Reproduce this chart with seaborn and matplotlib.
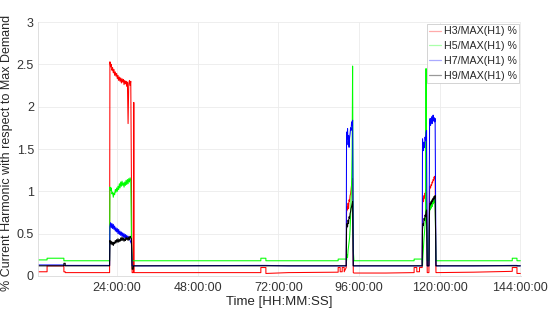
import matplotlib
matplotlib.use("Agg")
import matplotlib.pyplot as plt
from matplotlib.lines import Line2D
import seaborn as sns
import pandas as pd

# time in hours, shared by all four harmonic series
hours = [
    0.5, 3.2, 3.2, 8.2, 8.2, 8.6, 8.6, 21.8,
    21.9, 22.1, 22.3, 22.5, 22.7, 22.9, 23.1, 23.3, 23.5, 23.7, 23.9,
    24.1, 24.3, 24.5, 24.7, 24.9, 25.1, 25.3, 25.5, 25.7, 25.9,
    26.1, 26.3, 26.5, 26.7, 26.9, 27.1, 27.3, 27.5, 27.7, 27.9, 28.1, 28.3,
    28.5, 28.8, 28.9, 29.0, 29.1, 66.8, 66.8, 68.3, 68.3, 75.0, 89.8,
    89.8, 90.4, 90.4, 91.0, 91.0, 91.6, 91.6, 92.2,
    92.3, 92.45, 92.6, 92.75, 92.9, 93.05, 93.2, 93.35, 93.5, 93.65, 93.8, 93.95, 94.1,
    94.3, 94.5,
    104.0, 112.4,
    112.4, 113.2, 113.2, 114.0, 114.0, 114.8,
    114.9, 115.05, 115.2, 115.35, 115.5, 115.65, 115.8, 115.95, 116.1,
    116.3, 116.8,
    117.0, 117.15, 117.3, 117.45, 117.6, 117.75, 117.9, 118.05, 118.2, 118.35, 118.5, 118.65,
    118.9, 119.1,
    130.0, 141.6, 141.6, 143.0, 143.0, 144.0,
]

h3 = [
    0.05, 0.05, 0.12, 0.12, 0.05, 0.05, 0.04, 0.04,
    2.53, 2.47, 2.50, 2.43, 2.46, 2.40, 2.44, 2.37, 2.41, 2.36, 2.39,
    2.33, 2.37, 2.31, 2.35, 2.30, 2.34, 2.28, 2.33, 2.29, 2.32,
    2.26, 2.31, 2.27, 2.30, 2.24, 2.29, 1.80, 2.27, 2.31, 2.25, 2.30, 1.12,
    0.04, 0.04, 0.04, 2.05, 0.04, 0.04, 0.10, 0.10, 0.03, 0.04, 0.045,
    0.10, 0.10, 0.05, 0.05, 0.10, 0.10, 0.05, 0.10,
    0.75, 0.82, 0.78, 0.86, 0.80, 0.90, 0.88, 0.95, 0.97, 1.02, 1.08, 1.12, 1.15,
    0.04, 0.035,
    0.035, 0.04,
    0.10, 0.10, 0.05, 0.05, 0.10, 0.10,
    0.85, 0.92, 0.88, 0.95, 0.92, 0.98, 0.95, 1.02, 1.00,
    0.04, 0.04,
    1.02, 1.06, 1.04, 1.08, 1.07, 1.11, 1.10, 1.14, 1.13, 1.17, 1.15, 1.18,
    0.04, 0.04,
    0.045, 0.055, 0.10, 0.10, 0.03, 0.03,
]

h5 = [
    0.19, 0.19, 0.21, 0.21, 0.18, 0.18, 0.18, 0.18,
    1.05, 1.01, 1.04, 0.97, 0.99, 0.93, 0.98, 0.96, 1.02, 0.99, 1.04,
    1.00, 1.06, 1.02, 1.09, 1.04, 1.11, 1.06, 1.12, 1.07, 1.10,
    1.05, 1.11, 1.07, 1.13, 1.08, 1.14, 1.09, 1.15, 1.11, 1.16, 1.13, 0.45,
    0.18, 0.18, 0.18, 0.18, 0.18, 0.18, 0.21, 0.21, 0.18, 0.18, 0.18,
    0.20, 0.20, 0.20, 0.20, 0.20, 0.20, 0.20, 0.20,
    0.18, 0.25, 0.22, 0.30, 0.35, 0.40, 0.45, 0.55, 0.70, 0.90, 1.10, 1.45, 2.48,
    0.30, 0.18,
    0.18, 0.18,
    0.20, 0.20, 0.20, 0.20, 0.20, 0.20,
    0.12, 0.25, 0.35, 0.45, 0.52, 0.60, 0.66, 2.45, 0.72,
    0.18, 0.18,
    0.80, 0.78, 0.84, 0.80, 0.86, 0.82, 0.88, 0.85, 0.90, 0.87, 0.92, 0.90,
    0.18, 0.18,
    0.18, 0.18, 0.21, 0.21, 0.18, 0.18,
]

h7 = [
    0.13, 0.13, 0.13, 0.13, 0.125, 0.125, 0.125, 0.125,
    0.58, 0.63, 0.57, 0.62, 0.56, 0.61, 0.55, 0.59, 0.53, 0.57, 0.52,
    0.56, 0.50, 0.55, 0.49, 0.53, 0.48, 0.52, 0.47, 0.51, 0.46,
    0.50, 0.45, 0.49, 0.45, 0.48, 0.44, 0.47, 0.43, 0.46, 0.42, 0.40, 0.38,
    0.12, 0.12, 0.12, 0.12, 0.12, 0.125, 0.125, 0.125, 0.125, 0.12, 0.12,
    0.12, 0.12, 0.12, 0.12, 0.12, 0.12, 0.12, 0.12,
    1.70, 1.62, 1.74, 1.55, 1.66, 1.52, 1.63, 1.68, 1.75, 1.72, 1.82, 1.78, 1.84,
    0.12, 0.12,
    0.12, 0.12,
    0.12, 0.12, 0.12, 0.12, 0.12, 0.12,
    1.62, 1.55, 1.48, 1.58, 1.52, 1.64, 1.60, 1.70, 1.72,
    0.12, 0.12,
    1.80, 1.86, 1.78, 1.84, 1.88, 1.80, 1.85, 1.90, 1.83, 1.87, 1.82, 1.86,
    0.12, 0.12,
    0.12, 0.125, 0.125, 0.125, 0.12, 0.12,
]

h9 = [
    0.12, 0.12, 0.12, 0.12, 0.15, 0.15, 0.12, 0.12,
    0.42, 0.38, 0.41, 0.37, 0.40, 0.36, 0.40, 0.38, 0.42, 0.39, 0.43,
    0.40, 0.44, 0.40, 0.43, 0.41, 0.45, 0.42, 0.46, 0.42, 0.45,
    0.41, 0.44, 0.42, 0.46, 0.43, 0.45, 0.42, 0.46, 0.43, 0.47, 0.45, 0.44,
    0.08, 0.08, 0.12, 0.12, 0.12, 0.12, 0.12, 0.12, 0.12, 0.12, 0.12,
    0.12, 0.12, 0.12, 0.12, 0.12, 0.12, 0.12, 0.12,
    0.55, 0.62, 0.58, 0.66, 0.62, 0.70, 0.68, 0.74, 0.76, 0.80, 0.82, 0.85, 0.88,
    0.12, 0.12,
    0.12, 0.12,
    0.12, 0.12, 0.12, 0.12, 0.12, 0.12,
    0.55, 0.62, 0.60, 0.68, 0.66, 0.72, 0.70, 0.76, 0.78,
    0.12, 0.12,
    0.82, 0.86, 0.84, 0.88, 0.86, 0.90, 0.88, 0.92, 0.90, 0.94, 0.92, 0.95,
    0.12, 0.12,
    0.12, 0.12, 0.12, 0.12, 0.12, 0.12,
]

labels = ["H3/MAX(H1) %", "H5/MAX(H1) %", "H7/MAX(H1) %", "H9/MAX(H1) %"]
colors = ["#ff0000", "#00ff00", "#0000ff", "#000000"]
legend_colors = ["#ffaaaa", "#aaffaa", "#aaaaff", "#999999"]
x_ticks = [24, 48, 72, 96, 120, 144]
y_ticks = [0, 0.5, 1, 1.5, 2, 2.5, 3]

sns.set_style("white")
plt.rcParams["font.family"] = ["Liberation Sans", "DejaVu Sans"]

fig = plt.figure(figsize=(5.5, 3.13), dpi=100)
ax = fig.add_axes([38 / 550, 1 - 276 / 313, (521 - 38) / 550, (276 - 22) / 313])

for series, color in zip([h3, h5, h7, h9], colors):
    df = pd.DataFrame({"hours": hours, "value": series})
    sns.lineplot(data=df, x="hours", y="value", ax=ax, sort=False, estimator=None,
                 color=color, lw=0.75)

ax.set_xlim(0.5, 144.2)
ax.set_ylim(0, 3)
ax.set_xticks(x_ticks)
ax.set_xticklabels([f"{h}:00:00" for h in x_ticks])
ax.set_yticks(y_ticks)
ax.set_yticklabels([f"{v:g}" for v in y_ticks])
ax.grid(True, color="#ebebeb", lw=0.6)
ax.tick_params(length=0, labelsize=9, colors="#333333")
ax.tick_params(axis="y", pad=3)
ax.tick_params(axis="x", pad=4)
for side in ["top", "right"]:
    ax.spines[side].set_visible(False)
for side in ["left", "bottom"]:
    ax.spines[side].set_color("#d9d9d9")
    ax.spines[side].set_linewidth(0.6)

ax.set_xlabel("Time [HH:MM:SS]", fontsize=9.5, color="#262626", labelpad=2)
ax.set_ylabel("% Current Harmonic with respect to Max Demand", fontsize=9.0,
              color="#262626")
ax.yaxis.set_label_coords(-0.052, 0.484)

handles = [Line2D([], [], color=c, lw=0.9) for c in legend_colors]
leg = ax.legend(handles, labels, loc="upper right", fontsize=7.7, frameon=True,
                framealpha=1, fancybox=False, handlelength=1.1, handletextpad=0.25,
                labelspacing=0.45, borderpad=0.25, borderaxespad=0.15)
leg.get_frame().set_edgecolor("#cccccc")
leg.get_frame().set_linewidth(0.6)
for t in leg.get_texts():
    t.set_color("#262626")

fig.savefig("out.png", dpi=100)
